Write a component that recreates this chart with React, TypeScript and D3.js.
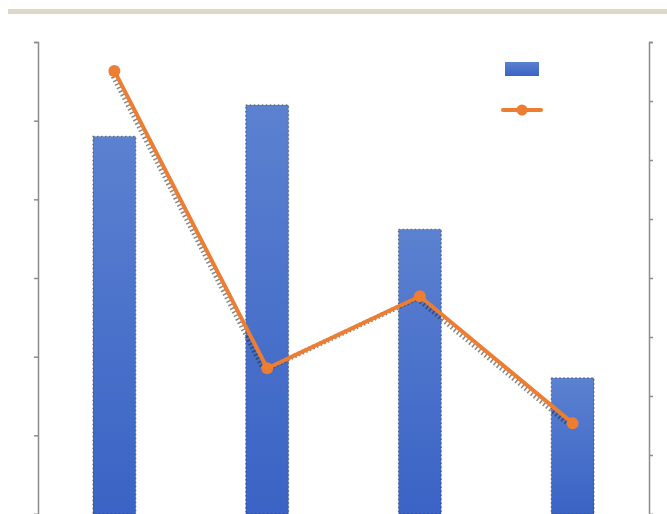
import { useEffect, useRef } from 'react';
import * as d3 from 'd3';

const categories = ['A', 'B', 'C', 'D'];
const barValues = [48, 52, 36.2, 17.3];
const lineValues = [75.1, 24.7, 36.9, 15.4];
const leftTicks = [0, 10, 20, 30, 40, 50, 60];
const rightTicks = [0, 10, 20, 30, 40, 50, 60, 70, 80];

const W = 667;
const H = 514;

export default function App() {
  const svgRef = useRef<SVGSVGElement>(null);

  useEffect(() => {
    if (!svgRef.current) return;
    const svg = d3.select(svgRef.current);
    svg.selectAll('*').remove();

    const margin = { top: 42, right: 18, bottom: 0, left: 38 };
    const x0 = margin.left;
    const x1 = W - margin.right;
    const y0 = H - margin.bottom;
    const y1 = margin.top;

    // header band
    svg.append('rect')
      .attr('x', 8).attr('y', 9).attr('width', W - 8).attr('height', 5)
      .attr('fill', '#ddd8c8');

    const x = d3.scaleBand<string>().domain(categories).range([x0, x1]).padding(0);
    const yL = d3.scaleLinear().domain([0, 60]).range([y0, y1]);
    const yR = d3.scaleLinear().domain([0, 80]).range([y0, y1]);

    const defs = svg.append('defs');
    const grad = defs.append('linearGradient')
      .attr('id', 'barGrad').attr('x1', 0).attr('y1', 0).attr('x2', 0).attr('y2', 1);
    grad.append('stop').attr('offset', '0%').attr('stop-color', '#5b81d0');
    grad.append('stop').attr('offset', '100%').attr('stop-color', '#3a63c5');

    // Bars
    const bw = x.bandwidth() * 0.28;
    const bars = categories.map((c, i) => ({ c, v: barValues[i] }));
    svg.append('g')
      .selectAll('rect')
      .data(bars)
      .join('rect')
      .attr('x', d => x(d.c)! + x.bandwidth() / 2 - bw / 2)
      .attr('y', d => yL(d.v))
      .attr('width', bw)
      .attr('height', d => y0 - yL(d.v))
      .attr('fill', 'url(#barGrad)')
      .attr('stroke', '#333')
      .attr('stroke-opacity', 0.6)
      .attr('stroke-width', 1.2)
      .attr('stroke-dasharray', '1.5,2.5');

    // Axes
    const axisColor = '#8c8c8c';
    svg.append('g')
      .attr('transform', `translate(${x0},0)`)
      .call(d3.axisLeft(yL).tickValues(leftTicks).tickSize(4).tickFormat(() => ''))
      .call(g => g.select('.domain').attr('stroke', axisColor).attr('stroke-width', 1.5))
      .call(g => g.selectAll('.tick line').attr('stroke', axisColor).attr('stroke-width', 1.5));

    svg.append('g')
      .attr('transform', `translate(${x1},0)`)
      .call(d3.axisRight(yR).tickValues(rightTicks).tickSize(4).tickFormat(() => ''))
      .call(g => g.select('.domain').attr('stroke', axisColor).attr('stroke-width', 1.5))
      .call(g => g.selectAll('.tick line').attr('stroke', axisColor).attr('stroke-width', 1.5));

    // Line
    const pts = categories.map((c, i) => ({ c, v: lineValues[i] }));
    const line = d3.line<{ c: string; v: number }>()
      .x(d => x(d.c)! + x.bandwidth() / 2)
      .y(d => yR(d.v));

    // dotted shadow
    svg.append('path')
      .datum(pts)
      .attr('d', line)
      .attr('transform', 'translate(-3,2)')
      .attr('fill', 'none')
      .attr('stroke', '#222')
      .attr('stroke-opacity', 0.55)
      .attr('stroke-width', 5)
      .attr('stroke-dasharray', '1.5,2.5');

    svg.append('path')
      .datum(pts)
      .attr('d', line)
      .attr('fill', 'none')
      .attr('stroke', '#ed7d31')
      .attr('stroke-width', 4);

    svg.append('g')
      .selectAll('circle')
      .data(pts)
      .join('circle')
      .attr('cx', d => x(d.c)! + x.bandwidth() / 2)
      .attr('cy', d => yR(d.v))
      .attr('r', 6)
      .attr('fill', '#ed7d31');

    // Legend (labels not visible in the source)
    const lg = svg.append('g').attr('transform', 'translate(505,62)');
    lg.append('rect').attr('x', 0).attr('y', 0).attr('width', 34).attr('height', 14).attr('fill', 'url(#barGrad)');
    lg.append('line').attr('x1', -2).attr('x2', 36).attr('y1', 48).attr('y2', 48)
      .attr('stroke', '#ed7d31').attr('stroke-width', 4).attr('stroke-linecap', 'round');
    lg.append('circle').attr('cx', 17).attr('cy', 48).attr('r', 5.5).attr('fill', '#ed7d31');
  }, []);

  return (
    <svg
      ref={svgRef}
      width={W}
      height={H}
      style={{ position: 'absolute', left: 0, top: 0, background: '#fff' }}
    />
  );
}
